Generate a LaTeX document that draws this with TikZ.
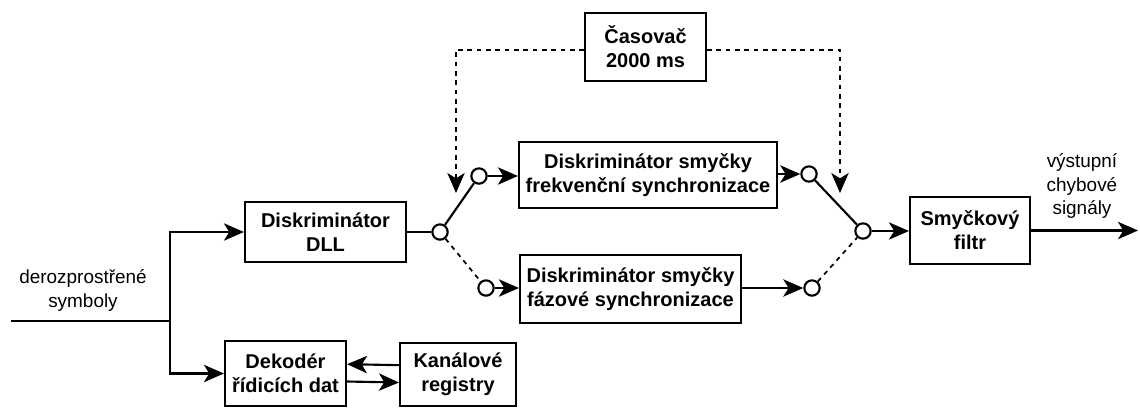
\documentclass[tikz,border=0pt]{standalone}
\usepackage{fontspec}
\setmainfont{Liberation Sans}
\usetikzlibrary{arrows.meta,calc,positioning}
\tikzset{
  arr/.style={-{Stealth[length=15pt,width=13pt,inset=4pt]}},
  blk/.style={draw,fill=white,inner sep=2pt,align=center,
    font=\fontsize{15}{18}\selectfont\bfseries},
  sw/.style={draw,circle,fill=white,minimum size=11.5pt,inner sep=0pt},
  lbl/.style={align=center,font=\fontsize{14.2}{17.5}\selectfont},
  dsh/.style={dash pattern=on 3.5pt off 3.5pt,line width=1.3pt}
}

\begin{document}
\begin{tikzpicture}[x=0.75pt,y=-0.75pt,line width=1.6pt]
  \useasboundingbox (0,0) rectangle (1140,408);
  \node[blk,minimum width=120.75pt,minimum height=45pt] (dll) at (325.5,232) {Diskriminátor\\DLL};
  \node[blk,minimum width=90.75pt,minimum height=48.75pt] (dek) at (285.5,373.5) {Dekodér\\řídicích dat};
  \node[blk,minimum width=87pt,minimum height=47.25pt] (kan) at (458,374.5) {Kanálové\\registry};
  \node[blk,minimum width=193.5pt,minimum height=49.5pt] (fll) at (648,175) {Diskriminátor smyčky\\frekvenční synchronizace};
  \node[blk,minimum width=165.75pt,minimum height=51pt] (pll) at (630.5,289) {Diskriminátor smyčky\\fázové synchronizace};
  \node[blk,minimum width=90.75pt,minimum height=51pt] (cas) at (645.5,47) {Časovač\\2000 ms};
  \node[blk,minimum width=90pt,minimum height=50.25pt] (flt) at (970,230.5) {Smyčkový\\filtr};
  \node[lbl] (inlbl) at (83,290.5) {derozprostřené\\symboly};
  \node[lbl] (outlbl) at (1082,186) {výstupní\\chybové\\signály};

  \node[sw] (s1) at (440,232) {};
  \node[sw] (s1a) at (479,176) {};
  \node[sw] (s1b) at (486,288) {};
  \node[sw] (s2) at (863,231) {};
  \node[sw] (s2a) at (809,174) {};
  \node[sw] (s2b) at (812,288) {};

  \coordinate (in) at (11,321);
  \coordinate (br) at (170,321);
  \coordinate (out) at (1138,230.5);
  \coordinate (t1) at (456,193);
  \coordinate (t2) at (840,193);

  \draw (in) -- (br);
  \draw[arr] (br) |- (dll.west);
  \draw[arr] (br) |- (dek.west);
  \draw[arr] ([yshift=7pt]kan.west) -- ([yshift=7pt]dek.east);
  \draw[arr] ([yshift=-6pt]dek.east) -- ([yshift=-6pt]kan.west);
  \draw (dll.east) -- (s1);
  \draw (s1) -- (s1a);
  \draw[dsh] (s1) -- (s1b);
  \draw[arr] (s1a) -- (s1a -| fll.west);
  \draw[arr] (s1b) -- (s1b -| pll.west);
  \draw[arr] (fll.east |- s2a) -- (s2a);
  \draw[arr] (pll.east |- s2b) -- (s2b);
  \draw (s2a) -- (s2);
  \draw[dsh] (s2b) -- (s2);
  \draw[arr] (s2) -- (s2 -| flt.west);
  \draw[arr] (flt.east) -- (out);
  \draw[dsh,arr] ([yshift=-2pt]cas.west) -| (t1);
  \draw[dsh,arr] ([yshift=-2pt]cas.east) -| (t2);
\end{tikzpicture}
\end{document}
